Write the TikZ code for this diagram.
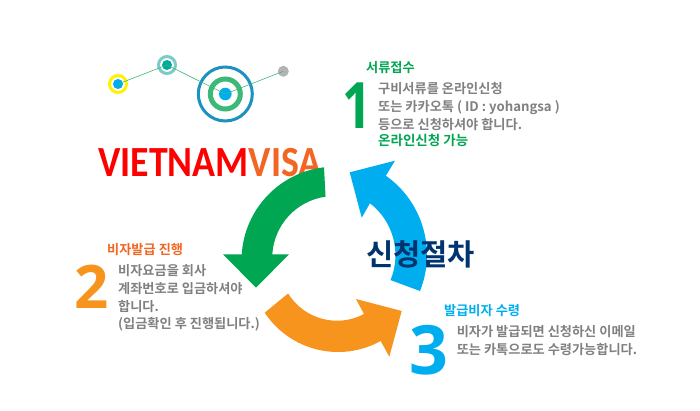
\documentclass[tikz,border=0pt]{standalone}
\usepackage{fontspec}
\usepackage{xcolor}
\setmainfont{Noto Sans CJK KR}[BoldFont={* Bold}]
\newfontfamily\logofont{Carlito}
\newfontfamily\numfont{Open Sans}
\usetikzlibrary{positioning}

\definecolor{stepgreen}{HTML}{00A651}
\definecolor{stepblue}{HTML}{00AEEF}
\definecolor{steporange}{HTML}{F7941D}
\definecolor{headorange}{HTML}{F26522}
\definecolor{stepnavy}{HTML}{003471}
\definecolor{bodygrey}{HTML}{808080}
\definecolor{linegreen}{HTML}{3CB878}
\definecolor{ringteal}{HTML}{7CCBC6}
\definecolor{dotteal}{HTML}{00A99D}
\definecolor{ringblue}{HTML}{1B92C0}
\definecolor{dotgrey}{HTML}{B3B3B3}

\tikzset{
    dot/.style={circle, inner sep=0pt, minimum size=#1},
    ring/.style={circle, draw, inner sep=0pt, fill=none},
    headtext/.style={inner sep=0pt, anchor=west, font=\fontsize{13.2}{15}\selectfont\bfseries},
    bodytext/.style={inner sep=0pt, anchor=west, align=left, text=bodygrey, font=\fontsize{13.2}{18}\selectfont\bfseries},
    bignum/.style={inner sep=0pt}
}

\begin{document}
\begin{tikzpicture}[x=1pt, y=1pt]

        \useasboundingbox (0,0) rectangle (700,-411);

        \def\greenarrow{(324,-167.3) arc (96.8:176.5:93.5) -- (223,-254.3) -- (256,-287.7) -- (289,-254.3) -- (272.3,-254.3) arc (176.5:98:62) -- cycle}
        \def\bluearrow{(420,-291) arc (-21.8:54.8:97) -- (395,-160.7) -- (349.7,-172.3) -- (361.7,-217.7) -- (370,-203.3) arc (52.3:-22.4:65.5) -- cycle}
        \def\orangearrow{(264.7,-312.7) arc (213.6:299:88) -- (389.3,-356.7) -- (401.7,-311) -- (356,-299) -- (364,-314) arc (298:211.7:57.5) -- cycle}

        % logo
        \node[inner sep=0pt, anchor=west, font=\fontsize{43}{43}\selectfont\logofont\bfseries] (logo) at (98,-163) {\scalebox{0.88}[1]{\textcolor{red}{VIETNAM}\textcolor{headorange}{VISA}}};

        \fill[stepblue] \bluearrow;
        \fill[stepgreen] \greenarrow;
        \fill[steporange] \orangearrow;

        % dots on the line
        \node[ring, draw=yellow, line width=3pt, minimum size=17pt] (dotA) at (118,-84) {};
        \node[dot=10pt, fill=stepblue] (dotAin) at (118,-84) {};
        \node[ring, draw=ringteal, line width=3pt, minimum size=17pt] (dotB) at (167,-65) {};
        \node[dot=10pt, fill=dotteal] (dotBin) at (167,-65) {};
        \node[ring, draw=ringblue, line width=3pt, minimum size=54pt] (dotC) at (225.3,-94) {};
        \node[ring, draw=linegreen, line width=5pt, minimum size=30pt] (dotCmid) at (225.3,-94) {};
        \node[dot=12.6pt, fill=stepblue] (dotCin) at (225.3,-94) {};
        \node[dot=11pt, fill=dotgrey] (dotD) at (283.3,-71.3) {};
        \draw[linegreen, line width=0.6pt] (dotA.center) -- (dotB.center) -- (dotC.center) -- (dotD.center);

        \node[inner sep=0pt, text=stepnavy, font=\fontsize{29.6}{30}\selectfont\bfseries] (title) at (420.5,-254) {신청절차};

        % step 1
        \node[headtext, text=stepgreen] (head1) at (366,-68) {서류접수};
        \node[bignum, text=stepgreen, font=\fontsize{64}{64}\selectfont\numfont\bfseries] (num1) at (357.5,-106) {\scalebox{0.8}[1]{1}};
        \node[bodytext] (body1) at (378,-107) {구비서류를 온라인신청\\또는 카카오톡 ( ID : yohangsa )\\등으로 신청하셔야 합니다.};
        \node[headtext, text=stepgreen, font=\fontsize{13.5}{15}\selectfont\bfseries] (extra1) at (378,-140) {온라인신청 가능};

        % step 2
        \node[headtext, text=headorange] (head2) at (107,-249.5) {비자발급 진행};
        \node[bignum, text=steporange, font=\fontsize{60}{60}\selectfont\numfont\bfseries] (num2) at (91.5,-287) {2};
        \node[bodytext] (body2) at (118,-298) {비자요금을 회사\\계좌번호로 입금하셔야\\합니다.\\[-0.5pt](입금확인 후 진행됩니다.)};

        % step 3
        \node[headtext, text=stepblue] (head3) at (444,-311) {발급비자 수령};
        \node[bignum, text=stepblue, font=\fontsize{68}{68}\selectfont\numfont\bfseries] (num3) at (429,-350) {3};
        \node[bodytext] (body3) at (456.6,-341) {비자가 발급되면 신청하신 이메일\\또는 카톡으로도 수령가능합니다.};

\end{tikzpicture}
\end{document}
